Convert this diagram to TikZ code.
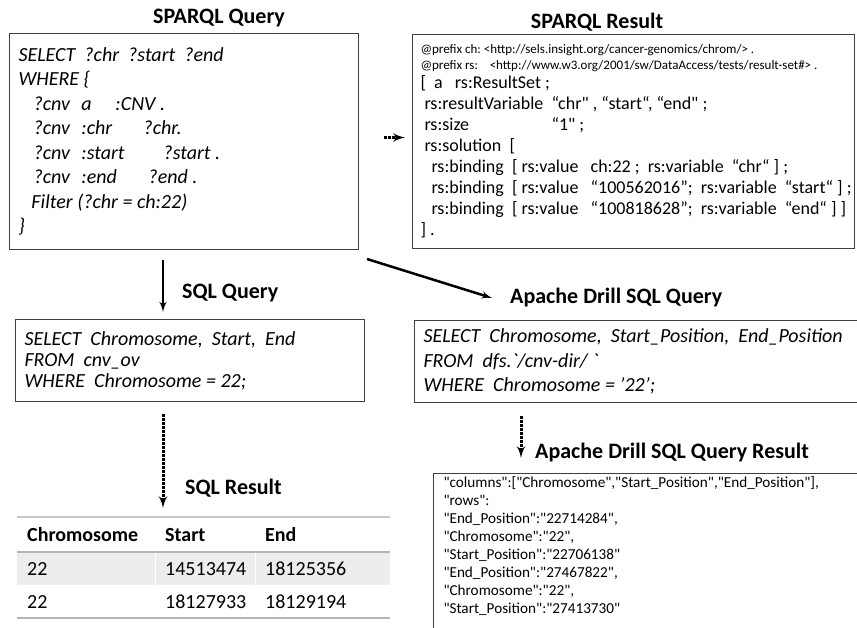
\documentclass[tikz,border=0pt]{standalone}
\usepackage{fontspec}
\setmainfont{Carlito}
\newfontfamily\codefont{Carlito}
\usepackage{tikz}
\usetikzlibrary{arrows,positioning}
\definecolor{boxgray}{HTML}{404040}
\definecolor{rulegray}{HTML}{C8C8C8}
\definecolor{rulegraydark}{HTML}{B4B4B4}
\definecolor{rowgray}{HTML}{EDEDED}
\newcommand{\colbox}[2]{\makebox[#1][l]{#2}}
\newcommand{\fontspaces}{\spaceskip=0pt\relax}
\frenchspacing

\begin{document}
\begin{tikzpicture}[
    x=1pt, y=-1pt,
    >=latex',
    heading/.style={
		font=\fontsize{22}{26}\selectfont\bfseries,
		inner sep=0pt
	},
    codebox/.style={
		rectangle,
		draw=boxgray,
		line width=1pt,
		anchor=north west,
		align=left,
		inner xsep=9pt,
		font=\codefont\fontsize{20}{24.5}\selectfont\itshape
	},
    outbox/.style={
		rectangle,
		draw=boxgray,
		line width=1pt,
		anchor=north west,
		align=left,
		inner xsep=8pt
	},
    tcell/.style={
		anchor=west,
		inner sep=0pt,
		font=\fontsize{20}{24}\selectfont
	},
    thead/.style={
		tcell,
		font=\fontsize{20}{24}\selectfont\bfseries
	},
    flow/.style={->, line width=2.5pt},
    dotflow/.style={->, line width=3pt, dash pattern=on 2.5pt off 1.5pt}
  ]
  \useasboundingbox (0,0) rectangle (857,627);
  \clip (0,0) rectangle (857,627);
  \fill[white] (0,0) rectangle (857,627);

  % the headings
  \node [heading] (tsparqlq) at (219,18) {SPARQL Query};
  \node [heading] (tsparqlr) at (597,22) {SPARQL Result};
  \node [heading, anchor=west] (tsql) at (182,293) {SQL Query};
  \node [heading, anchor=west] (tdrill) at (510,298) {Apache Drill SQL Query};
  \node [heading, anchor=west] (tsqlres) at (185,488) {SQL Result};
  \node [heading, anchor=west] (tdrillres) at (535,453) {Apache Drill SQL Query Result};

  % the query blocks
  \node [codebox, text width=331pt, minimum height=216pt] (sparqlq) at (9,33)
 {%
  \fontspaces
  SELECT\ \ ?chr\ \ ?start\ \ ?end\\
  WHERE \{\\
  \hspace*{15pt}\colbox{48pt}{?cnv}\colbox{34pt}{a}:CNV .\\
  \hspace*{15pt}\colbox{48pt}{?cnv}\colbox{62pt}{:chr}?chr.\\
  \hspace*{15pt}\colbox{48pt}{?cnv}\colbox{82pt}{:start}?start .\\
  \hspace*{15pt}\colbox{48pt}{?cnv}\colbox{67pt}{:end}?end .\\
  \hspace*{13pt}Filter (?chr = ch:22)\\
  \}
 };

  \node [outbox, text width=426pt, minimum height=214pt,
         font=\codefont\fontsize{18}{21}\selectfont] (sparqlr) at (412,34)
 {%
  \fontspaces
  \mbox{\fontsize{13}{15}\selectfont @prefix ch: <http://sels.insight.org/cancer-genomics/chrom/> .}\\[-5pt]
  \mbox{\fontsize{13}{15}\selectfont @prefix rs:\ \ \ \ <http://www.w3.org/2001/sw/DataAccess/tests/result-set\#> .}\\[-2pt]
  {[}\ \ a\ \ \ rs:ResultSet ;\\
  \hspace*{4pt}rs:resultVariable\ \ “chr" , “start“, “end" ;\\
  \hspace*{4pt}\colbox{127pt}{rs:size}“1" ;\\
  \hspace*{4pt}rs:solution\ \ [\\
  \hspace*{11pt}\mbox{rs:binding\ \ [ rs:value\ \ \ ch:22 ;\ \ rs:variable\ \ “chr“ ] ;}\\
  \hspace*{11pt}\mbox{rs:binding\ \ [ rs:value\ \ \ “100562016”;\ \ rs:variable\ \ “start“ ] ;}\\
  \hspace*{11pt}\mbox{rs:binding\ \ [ rs:value\ \ \ “100818628”;\ \ rs:variable\ \ “end“ ] ]}\\
  ] .
 };

  \node [codebox, text width=331pt, minimum height=82pt,
         font=\codefont\fontsize{20}{21}\selectfont\itshape] (sqlq) at (15,319)
 {%
  \fontspaces
  SELECT\ \ Chromosome,\ \ Start,\ \ End\\
  FROM\ \ cnv\_ov\\
  WHERE\ \ Chromosome = 22;
 };

  \node [codebox, text width=470pt, minimum height=82pt] (drillq) at (414,320)
 {%
  \fontspaces
  \mbox{SELECT\ \ Chromosome,\ \ Start\_Position,\ \ End\_Position}\\
  FROM\ \ dfs.`/cnv-dir/\ `\\
  WHERE\ \ Chromosome = ’22’;
 };

  \node [outbox, text width=480pt, inner xsep=10pt,
         font=\codefont\fontsize{15.2}{18}\selectfont] (drillres) at (433,473)
 {%
  \fontspaces
  "columns":["Chromosome","Start\_Position","End\_Position"],\\
  "rows":\\
  "End\_Position":"22714284",\\
  "Chromosome":"22",\\
  "Start\_Position":"22706138"\\
  "End\_Position":"27467822",\\
  "Chromosome":"22",\\
  "Start\_Position":"27413730"\rule[-30pt]{0pt}{1pt}
 };

  % the SQL result table
  \coordinate (tabtop) at (17,517);
  \fill [rowgray] (17,552) rectangle (390,585);
  \draw [white, line width=1pt] (155,552) -- (155,585) (255,552) -- (255,585);
  \draw [rulegray, line width=1.5pt] (tabtop) -- (390,517);
  \draw [rulegraydark, line width=2pt] (17,552) -- (390,552);
  \draw [rulegraydark, line width=2pt] (17,618) -- (390,618);

  \node [thead] (hchr) at (27,535) {Chromosome};
  \node [thead] (hstart) at (165,535) {Start};
  \node [thead] (hend) at (265,535) {End};
  \node [tcell] (r1chr) at (27,569) {22};
  \node [tcell] (r1start) at (165,569) {14513474};
  \node [tcell] (r1end) at (265,569) {18125356};
  \node [tcell] (r2chr) at (27,602) {22};
  \node [tcell] (r2start) at (165,602) {18127933};
  \node [tcell] (r2end) at (265,602) {18129194};

  % the arrows
  \coordinate (lcol) at (163,0);
  \coordinate (rcol) at (521,0);
  \draw [dotflow, shorten <=25pt, shorten >=7pt] ([yshift=4pt]sparqlq.east) -- ([yshift=4pt]sparqlr.west);
  \draw [flow, shorten <=10pt, shorten >=7pt] (lcol |- sparqlq.south) -- (lcol |- sqlq.north);
  \draw [flow] ([shift={(8,9)}]sparqlq.south east) -- ([xshift=-18pt]tdrill.west);
  \draw [dotflow, shorten <=12pt, shorten >=9pt] (lcol |- sqlq.south) -- (lcol |- tabtop);
  \draw [dotflow, shorten <=13pt, shorten >=15pt] (rcol |- drillq.south) -- (rcol |- drillres.north);

\end{tikzpicture}
\end{document}
